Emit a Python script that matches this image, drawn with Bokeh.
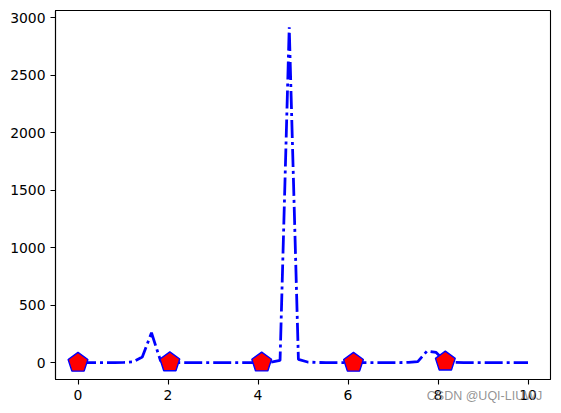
from bokeh.plotting import figure
from bokeh.models import Range1d, FixedTicker
from bokeh.embed import file_html
from bokeh.resources import INLINE

x_vals = [0.0, 0.204, 0.408, 0.612, 0.816, 1.020, 1.224, 1.429, 1.633, 1.837,
          2.041, 2.245, 2.449, 2.653, 2.857, 3.061, 3.265, 3.469, 3.673, 3.878,
          4.082, 4.286, 4.490, 4.694, 4.898, 5.102, 5.306, 5.510, 5.714, 5.918,
          6.122, 6.327, 6.531, 6.735, 6.939, 7.143, 7.347, 7.551, 7.755, 7.959,
          8.163, 8.367, 8.571, 8.776, 8.980, 9.184, 9.388, 9.592, 9.796, 10.0]
y_vals = [0.0, 0.04, 0.19, 0.49, 1.14, 2.66, 7.68, 48.8, 260.8, 13.5,
          3.87, 1.57, 0.69, 0.28, 0.09, 0.01, 0.02, 0.12, 0.35, 0.82,
          1.87, 4.83, 19.5, 2918.0, 28.4, 5.94, 2.19, 0.96, 0.41, 0.15,
          0.03, 0.0, 0.06, 0.23, 0.59, 1.35, 3.24, 10.2, 101.6, 89.7,
          9.8, 3.14, 1.31, 0.58, 0.23, 0.06, 0.0, 0.03, 0.15, 0.42]
marker_step = 10
x_ticks = [0, 2, 4, 6, 8, 10]
y_ticks = [0, 500, 1000, 1500, 2000, 2500, 3000]
watermark = "CSDN @UQI-LIUWJ"

p = figure(width=553, height=405, output_backend="svg", toolbar_location=None,
           x_range=Range1d(-0.5, 10.5), y_range=Range1d(-146, 3064),
           min_border_left=55, min_border_right=3, min_border_top=10, min_border_bottom=26)
p.xgrid.visible = False
p.ygrid.visible = False
p.outline_line_color = "black"
p.outline_line_width = 1.1
p.background_fill_color = "white"

for ax in (p.xaxis, p.yaxis):
    ax.axis_line_color = "black"
    ax.axis_line_width = 1.1
    ax.major_tick_line_color = "black"
    ax.major_tick_line_width = 1.1
    ax.major_tick_out = 5
    ax.major_tick_in = 0
    ax.minor_tick_line_color = None
    ax.major_label_text_font = "DejaVu Sans"
    ax.major_label_text_font_size = "13.9px"
    ax.major_label_text_color = "black"
    ax.major_label_standoff = 5
p.xaxis.ticker = FixedTicker(ticks=x_ticks)
p.yaxis.ticker = FixedTicker(ticks=y_ticks)

# watermark drawn as the x axis label (centred on the frame's right end),
# padded on the right so that its visible part ends at the frame edge
p.xaxis.axis_label = watermark + "\u00a0" * 38
p.xaxis.axis_label_text_font = "Liberation Sans"
p.xaxis.axis_label_text_font_style = "normal"
p.xaxis.axis_label_text_font_size = "12.5px"
p.xaxis.axis_label_text_color = "#808080"
p.xaxis.axis_label_text_alpha = 0.85
p.xaxis.axis_label_standoff = -14
p.xaxis.axis_label_align = "end"

p.line(x_vals, y_vals, line_color="blue", line_width=2.78, line_dash="18 4 3 4")

mx = x_vals[::marker_step]
my = y_vals[::marker_step]
p.ngon(x=mx, y=my, radius=10.4, radius_units="screen", n=5, angle=0,
       fill_color="red", line_color="blue", line_width=1.4)

open("out.html", "w").write(file_html(p, INLINE))
